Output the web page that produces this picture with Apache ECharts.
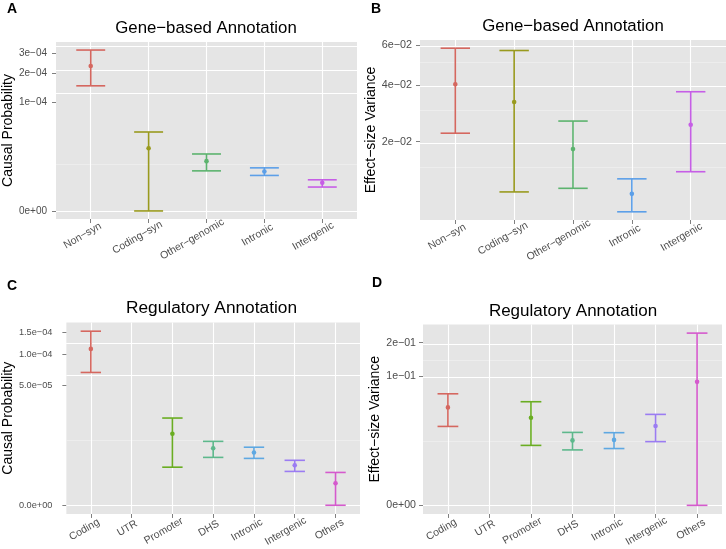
<!DOCTYPE html>
<html><head><meta charset="utf-8">
<script src="https://cdn.jsdelivr.net/npm/echarts@6/dist/echarts.min.js"></script>
<style>html,body{margin:0;padding:0;background:#fff}#c{width:726px;height:549px}</style>
</head><body><div id="c"></div>
<script>
// ---------- data ----------
const geneCategories = ['Non−syn', 'Coding−syn', 'Other−genomic', 'Intronic', 'Intergenic'];
const regCategories = ['Coding', 'UTR', 'Promoter', 'DHS', 'Intronic', 'Intergenic', 'Others'];

// Panel A: Gene-based, causal probability
const aLower = [1.505e-4, 0, 4.95e-6, 3.44e-6, 1.05e-6];
const aMid   = [2.34e-4, 1.89e-5, 9.5e-6, 4.74e-6, 1.72e-6];
const aUpper = [3.20e-4, 3.78e-5, 1.42e-5, 6.15e-6, 2.32e-6];
const aTicks = [0, 1e-4, 2e-4, 3e-4];
const aTickLabels = ['0e+00', '1e−04', '2e−04', '3e−04'];

// Panel B: Gene-based, effect-size variance
const bLower = [2.24e-2, 9.1e-3, 9.7e-3, 6.23e-3, 1.28e-2];
const bMid   = [4.03e-2, 3.30e-2, 1.80e-2, 8.79e-3, 2.50e-2];
const bUpper = [5.83e-2, 5.70e-2, 2.62e-2, 1.14e-2, 3.71e-2];
const bTicks = [0, 2e-2, 4e-2, 6e-2];
const bTickLabels = ['0e+00', '2e−02', '4e−02', '6e−02'];

// Panel C: Regulatory, causal probability (UTR empty)
const cLower = [6.83e-5, null, 1.61e-6, 3.2e-6, 3.0e-6, 1.13e-6, 0];
const cMid   = [1.115e-4, null, 1.065e-5, 5.41e-6, 4.3e-6, 1.87e-6, 3.1e-7];
const cUpper = [1.538e-4, null, 1.935e-5, 7.61e-6, 5.7e-6, 2.65e-6, 1.03e-6];
const cTicks = [0, 5e-5, 1e-4, 1.5e-4];
const cTickLabels = ['0.0e+00', '5.0e−05', '1.0e−04', '1.5e−04'];

// Panel D: Regulatory, effect-size variance (UTR empty)
const dLower = [2.28e-2, null, 1.0e-2, 7.9e-3, 8.5e-3, 1.20e-2, 0];
const dMid   = [4.36e-2, null, 3.12e-2, 1.27e-2, 1.30e-2, 2.32e-2, 8.74e-2];
const dUpper = [6.44e-2, null, 5.16e-2, 1.80e-2, 1.78e-2, 3.49e-2, 2.37e-1];
const dTicks = [0, 1e-1, 2e-1];
const dTickLabels = ['0e+00', '1e−01', '2e−01'];

const geneColors = ['#D5675F', '#999A1E', '#5CB36E', '#5C9FE8', '#C65EE6'];
const regColors  = ['#D5675F', '#C2A02A', '#6AAD22', '#5DB88C', '#5EA8E2', '#9B7CF2', '#D55ACD'];

const titles = ['Gene−based Annotation', 'Gene−based Annotation', 'Regulatory Annotation', 'Regulatory Annotation'];
const yNames = ['Causal Probability', 'Effect−size Variance', 'Causal Probability', 'Effect−size Variance'];
const letters = ['A', 'B', 'C', 'D'];

// ---------- layout ----------
const FONT = '"Liberation Sans", Arial, Helvetica, sans-serif';
const layouts = [
  {left: 56, top: 42, width: 301, height: 177, nameGap: 37, labelMargin: 9, tickFont: 10, titleFont: 16.8, titleX: 206, titleY: 19.5, letterX: 7, letterY: 2},
  {left: 420, top: 40, width: 306, height: 180, nameGap: 39, labelMargin: 8, tickFont: 10.8, titleFont: 16.8, titleX: 573, titleY: 18, letterX: 371, letterY: 2},
  {left: 63, top: 322.5, width: 297, height: 193.5, nameGap: 49, labelMargin: 14, tickFont: 9.2, titleFont: 17.3, titleX: 211.5, titleY: 299.5, letterX: 7, letterY: 279.5},
  {left: 423, top: 324.5, width: 299, height: 190, nameGap: 39, labelMargin: 7, tickFont: 10.6, titleFont: 17, titleX: 573, titleY: 302.5, letterX: 372, letterY: 276}
];

const panels = [
  {cats: geneCategories, lo: aLower, mid: aMid, hi: aUpper, ticks: aTicks, tickLabels: aTickLabels, colors: geneColors},
  {cats: geneCategories, lo: bLower, mid: bMid, hi: bUpper, ticks: bTicks, tickLabels: bTickLabels, colors: geneColors},
  {cats: regCategories, lo: cLower, mid: cMid, hi: cUpper, ticks: cTicks, tickLabels: cTickLabels, colors: regColors},
  {cats: regCategories, lo: dLower, mid: dMid, hi: dUpper, ticks: dTicks, tickLabels: dTickLabels, colors: regColors}
];

const tr = Math.cbrt; // cube-root scale
const X_FONT = 10.5;
const measureCtx = document.createElement('canvas').getContext('2d');
measureCtx.font = X_FONT + 'px ' + FONT;

function renderErr(params, api) {
  const x = api.value(0);
  const pLo = api.coord([x, api.value(1)]);
  const pMid = api.coord([x, api.value(2)]);
  const pHi = api.coord([x, api.value(3)]);
  const hw = api.size([0.25, 0])[0];
  const color = api.visual('color');
  const ls = {stroke: color, lineWidth: 1.6};
  return {type: 'group', children: [
    {type: 'line', shape: {x1: pLo[0], y1: pLo[1], x2: pHi[0], y2: pHi[1]}, style: ls},
    {type: 'line', shape: {x1: pLo[0] - hw, y1: pLo[1], x2: pLo[0] + hw, y2: pLo[1]}, style: ls},
    {type: 'line', shape: {x1: pHi[0] - hw, y1: pHi[1], x2: pHi[0] + hw, y2: pHi[1]}, style: ls},
    {type: 'circle', shape: {cx: pMid[0], cy: pMid[1], r: 2.3}, style: {fill: color}}
  ]};
}

const option = {
  animation: false,
  backgroundColor: '#ffffff',
  title: [], grid: [], xAxis: [], yAxis: [], series: []
};

panels.forEach((p, k) => {
  const L = layouts[k];
  const n = p.cats.length;
  const vals = [];
  p.lo.forEach((v, i) => { if (v != null) vals.push(tr(v), tr(p.hi[i])); });
  const tmin = Math.min(...vals), tmax = Math.max(...vals);
  const pad = 0.05 * (tmax - tmin);
  const ymin = tmin - pad, ymax = tmax + pad;
  const tt = p.ticks.map(tr);
  const majorIn = tt.filter(v => v >= ymin && v <= ymax);
  const b = majorIn.slice();
  if (ymin < b[0]) b.unshift(b[0] - (b[1] - b[0]));
  if (ymax > b[b.length - 1]) b.push(b[b.length - 1] + (b[b.length - 1] - b[b.length - 2]));
  const minors = [];
  for (let i = 0; i < b.length - 1; i++) minors.push((b[i] + b[i + 1]) / 2);
  const minorIn = minors.filter(v => v > ymin && v < ymax);

  const xs = p.cats.map((c, i) => i + 1);
  const rich = {t: {fontSize: X_FONT, color: '#4d4d4d', fontFamily: FONT}};
  p.cats.forEach((c, i) => {
    rich['s' + i] = {width: Math.round(measureCtx.measureText(c).width * 0.46), fontSize: X_FONT};
  });

  option.title.push({
    text: titles[k], left: L.titleX, top: L.titleY, textAlign: 'center', padding: 0,
    textStyle: {fontSize: L.titleFont, fontWeight: 'normal', color: '#000', fontFamily: FONT}
  });
  option.title.push({
    text: letters[k], left: L.letterX, top: L.letterY, padding: 0,
    textStyle: {fontSize: 14, fontWeight: 'bold', color: '#000', fontFamily: FONT}
  });
  option.grid.push({left: L.left, top: L.top, width: L.width, height: L.height,
    show: true, backgroundColor: '#E5E5E5', borderWidth: 0, containLabel: false});
  option.xAxis.push({
    type: 'value', gridIndex: k, min: 0.4, max: n + 0.6,
    axisLine: {show: false, onZero: false},
    splitLine: {show: false},
    axisTick: {show: true, customValues: xs, length: 4, lineStyle: {color: '#7f7f7f', width: 1}},
    axisLabel: {
      customValues: xs, rotate: 30, align: 'center', verticalAlign: 'middle', margin: 12,
      formatter: v => { const i = Math.round(v) - 1; return '{t|' + p.cats[i] + '}{s' + i + '| }'; },
      rich: rich
    }
  });
  option.yAxis.push({
    type: 'value', gridIndex: k, min: ymin, max: ymax,
    name: yNames[k], nameLocation: 'middle', nameGap: L.nameGap, nameRotate: 90,
    nameTextStyle: {fontSize: 14, color: '#000', fontFamily: FONT},
    axisLine: {show: false, onZero: false},
    splitLine: {show: false},
    axisTick: {show: true, customValues: majorIn, length: 4, lineStyle: {color: '#7f7f7f', width: 1}},
    axisLabel: {
      customValues: majorIn, margin: L.labelMargin, fontSize: L.tickFont, color: '#4d4d4d', fontFamily: FONT,
      formatter: v => {
        let best = 0;
        tt.forEach((t, i) => { if (Math.abs(t - v) < Math.abs(tt[best] - v)) best = i; });
        return p.tickLabels[best];
      }
    }
  });
  const gridLines = [];
  minorIn.forEach(v => gridLines.push({yAxis: v, lineStyle: {color: '#F2F2F2', width: 0.6, type: 'solid'}}));
  majorIn.forEach(v => gridLines.push({yAxis: v, lineStyle: {color: '#FFFFFF', width: 1.1, type: 'solid'}}));
  xs.forEach(v => gridLines.push({xAxis: v, lineStyle: {color: '#FFFFFF', width: 1.1, type: 'solid'}}));
  option.series.push({
    type: 'line', xAxisIndex: k, yAxisIndex: k, data: [], z: 1, silent: true,
    markLine: {silent: true, symbol: ['none', 'none'], label: {show: false}, animation: false, data: gridLines}
  });
  const items = [];
  p.lo.forEach((v, i) => {
    if (v == null) return;
    items.push({value: [i + 1, tr(v), tr(p.mid[i]), tr(p.hi[i])], itemStyle: {color: p.colors[i]}});
  });
  option.series.push({
    type: 'custom', xAxisIndex: k, yAxisIndex: k, z: 10,
    encode: {x: 0, y: [1, 2, 3]}, renderItem: renderErr, data: items
  });
});

const chart = echarts.init(document.getElementById('c'), null, {renderer: 'canvas'});
chart.setOption(option);
</script>
</body></html>
